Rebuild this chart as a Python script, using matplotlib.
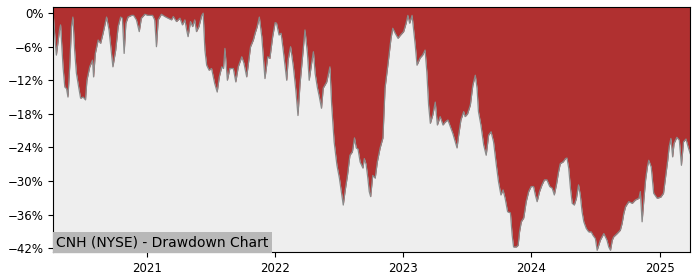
import matplotlib
matplotlib.use("Agg")
import matplotlib.pyplot as plt
import matplotlib.ticker as mticker
import pandas as pd

# Drawdown (percent below running peak)
dates = [
    "2020-04-09", "2020-04-13", "2020-04-18", "2020-04-27", "2020-04-30", "2020-05-07",
    "2020-05-12", "2020-05-17", "2020-05-21", "2020-05-26", "2020-05-31", "2020-06-04",
    "2020-06-09", "2020-06-14", "2020-06-21", "2020-06-26", "2020-07-03", "2020-07-10",
    "2020-07-14", "2020-07-22", "2020-07-30", "2020-08-02", "2020-08-07", "2020-08-15",
    "2020-08-22", "2020-08-29", "2020-09-08", "2020-09-15", "2020-09-26", "2020-10-04",
    "2020-10-11", "2020-10-18", "2020-10-23", "2020-10-28", "2020-11-02", "2020-11-08",
    "2020-11-18", "2020-11-24", "2020-12-02", "2020-12-10", "2020-12-16", "2020-12-26",
    "2021-01-04", "2021-01-17", "2021-01-23", "2021-01-28", "2021-02-02", "2021-02-11",
    "2021-02-21", "2021-03-02", "2021-03-12", "2021-03-17", "2021-03-26", "2021-04-05",
    "2021-04-12", "2021-04-19", "2021-04-24", "2021-04-28", "2021-05-05", "2021-05-11",
    "2021-05-17", "2021-05-22", "2021-05-29", "2021-06-06", "2021-06-10", "2021-06-15",
    "2021-06-20", "2021-06-27", "2021-07-04", "2021-07-09", "2021-07-13", "2021-07-20",
    "2021-07-26", "2021-08-02", "2021-08-07", "2021-08-11", "2021-08-18", "2021-08-25",
    "2021-09-04", "2021-09-11", "2021-09-18", "2021-09-28", "2021-10-04", "2021-10-12",
    "2021-10-23", "2021-10-31", "2021-11-05", "2021-11-11", "2021-11-17", "2021-11-24",
    "2021-12-03", "2021-12-11", "2021-12-17", "2021-12-25", "2022-01-01", "2022-01-05",
    "2022-01-12", "2022-01-18", "2022-01-24", "2022-02-03", "2022-02-07", "2022-02-14",
    "2022-02-22", "2022-03-01", "2022-03-07", "2022-03-13", "2022-03-21", "2022-03-27",
    "2022-04-03", "2022-04-08", "2022-04-15", "2022-04-20", "2022-04-25", "2022-05-01",
    "2022-05-07", "2022-05-13", "2022-05-18", "2022-05-28", "2022-06-06", "2022-06-11",
    "2022-06-18", "2022-06-26", "2022-07-03", "2022-07-10", "2022-07-14", "2022-07-19",
    "2022-07-26", "2022-08-02", "2022-08-09", "2022-08-15", "2022-08-20", "2022-08-25",
    "2022-08-31", "2022-09-08", "2022-09-12", "2022-09-17", "2022-09-22", "2022-09-26",
    "2022-09-30", "2022-10-06", "2022-10-13", "2022-10-19", "2022-10-27", "2022-11-04",
    "2022-11-10", "2022-11-18", "2022-11-27", "2022-12-02", "2022-12-09", "2022-12-17",
    "2022-12-23", "2023-01-02", "2023-01-09", "2023-01-14", "2023-01-19", "2023-01-26",
    "2023-02-04", "2023-02-09", "2023-02-18", "2023-02-25", "2023-03-04", "2023-03-09",
    "2023-03-14", "2023-03-19", "2023-03-26", "2023-04-02", "2023-04-08", "2023-04-16",
    "2023-04-24", "2023-04-30", "2023-05-08", "2023-05-15", "2023-05-22", "2023-05-29",
    "2023-06-03", "2023-06-07", "2023-06-14", "2023-06-22", "2023-06-26", "2023-07-03",
    "2023-07-11", "2023-07-18", "2023-07-25", "2023-07-30", "2023-08-03", "2023-08-10",
    "2023-08-18", "2023-08-25", "2023-09-01", "2023-09-08", "2023-09-15", "2023-09-23",
    "2023-09-29", "2023-10-06", "2023-10-12", "2023-10-18", "2023-10-25", "2023-11-02",
    "2023-11-07", "2023-11-11", "2023-11-19", "2023-11-24", "2023-11-28", "2023-12-03",
    "2023-12-10", "2023-12-17", "2023-12-24", "2023-12-31", "2024-01-07", "2024-01-12",
    "2024-01-17", "2024-01-24", "2024-01-31", "2024-02-07", "2024-02-14", "2024-02-22",
    "2024-02-29", "2024-03-06", "2024-03-12", "2024-03-18", "2024-03-23", "2024-03-31",
    "2024-04-07", "2024-04-11", "2024-04-16", "2024-04-21", "2024-04-26", "2024-05-02",
    "2024-05-08", "2024-05-14", "2024-05-19", "2024-05-24", "2024-05-29", "2024-06-05",
    "2024-06-12", "2024-06-19", "2024-06-24", "2024-07-01", "2024-07-06", "2024-07-15",
    "2024-07-25", "2024-08-03", "2024-08-08", "2024-08-13", "2024-08-18", "2024-08-22",
    "2024-09-01", "2024-09-10", "2024-09-15", "2024-09-20", "2024-09-25", "2024-10-04",
    "2024-10-14", "2024-10-23", "2024-11-02", "2024-11-06", "2024-11-11", "2024-11-16",
    "2024-11-21", "2024-11-26", "2024-11-30", "2024-12-07", "2024-12-14", "2024-12-24",
    "2025-01-03", "2025-01-11", "2025-01-18", "2025-01-23", "2025-01-27", "2025-02-01",
    "2025-02-06", "2025-02-10", "2025-02-18", "2025-02-25", "2025-03-03", "2025-03-09",
    "2025-03-16", "2025-03-22", "2025-03-28",
]
drawdown = [
    0.0, -3.6, -7.5, -3.0, -2.1, -9.6,
    -13.2, -13.5, -15.0, -9.6, -2.4, -0.7,
    -6.6, -10.7, -13.4, -15.2, -15.0, -15.5,
    -12.0, -9.6, -8.4, -11.4, -7.2, -4.8,
    -5.4, -3.6, -0.7, -3.0, -9.6, -6.6,
    -2.4, -0.7, -0.9, -7.2, -1.8, -0.7,
    -0.4, -0.4, -1.2, -3.3, -0.9, -0.2,
    -0.4, -0.4, -1.2, -6.0, -1.2, -0.2,
    -0.6, -0.9, -1.2, -0.6, -1.5, -0.9,
    -2.1, -1.2, -3.0, -4.2, -1.5, -2.4,
    -1.2, -3.3, -2.4, -0.4, 0.0, -6.6,
    -9.3, -10.2, -9.9, -11.4, -12.6, -14.1,
    -11.4, -9.6, -9.9, -6.3, -12.0, -9.9,
    -9.9, -12.3, -9.6, -7.8, -8.9, -11.4,
    -6.0, -4.8, -3.6, -2.4, -0.7, -4.2,
    -11.7, -7.8, -8.1, -4.2, -1.7, -1.8,
    -3.9, -3.6, -6.6, -12.0, -8.4, -6.0,
    -9.6, -13.8, -18.3, -12.6, -7.2, -3.0,
    -7.2, -12.0, -8.9, -6.9, -10.8, -13.2,
    -15.0, -17.0, -13.4, -12.3, -9.6, -16.4,
    -23.0, -27.2, -29.5, -32.5, -34.3, -31.9,
    -29.0, -25.4, -24.8, -22.3, -24.1, -24.3,
    -26.6, -27.7, -26.0, -27.0, -29.5, -31.9,
    -32.8, -29.0, -29.5, -26.6, -24.1, -22.3,
    -13.4, -9.3, -4.5, -2.7, -3.6, -4.5,
    -4.0, -3.3, -1.8, -0.4, -1.8, -0.4,
    -5.7, -9.3, -8.0, -7.5, -6.6, -10.5,
    -16.4, -19.7, -18.2, -15.9, -20.0, -18.5,
    -20.0, -19.5, -19.1, -20.3, -21.5, -23.0,
    -24.1, -22.1, -19.1, -17.6, -18.5, -18.0,
    -16.4, -12.9, -11.1, -13.4, -17.6, -20.0,
    -23.6, -25.4, -21.8, -21.2, -23.0, -27.2,
    -30.1, -32.5, -31.6, -33.1, -35.5, -35.7,
    -39.7, -41.8, -41.8, -41.5, -39.1, -37.3,
    -36.6, -33.7, -31.9, -31.0, -31.0, -32.5,
    -33.7, -31.9, -30.7, -29.8, -29.8, -31.0,
    -31.3, -32.5, -30.7, -28.4, -26.9, -26.6,
    -26.0, -25.9, -27.7, -31.3, -34.0, -34.3,
    -33.1, -30.7, -32.5, -35.5, -37.3, -38.5,
    -39.1, -39.1, -39.7, -40.3, -42.4, -40.6,
    -39.4, -40.6, -41.8, -42.4, -40.6, -40.0,
    -39.4, -38.8, -37.6, -35.8, -34.6, -33.7,
    -34.0, -33.4, -33.1, -31.9, -37.3, -33.4,
    -29.8, -27.5, -26.3, -27.5, -32.2, -33.1,
    -32.9, -32.2, -28.7, -26.3, -23.9, -22.4,
    -25.7, -23.3, -22.2, -22.7, -27.2, -23.0,
    -22.5, -23.9, -25.1,
]
y_ticks = [0, -6, -12, -18, -24, -30, -36, -42]
title = "CNH (NYSE) - Drawdown Chart"

x = pd.to_datetime(dates)
y_bottom, y_top = -42.7, 1.1

fig = plt.figure(figsize=(7, 2.8), dpi=100)
ax = fig.add_axes([0.076, 0.1, 0.91, 0.875])
ax.set_facecolor("#eeeeee")

# red area runs from the curve up to the top of the plot
ax.fill_between(x, drawdown, y_top, color="#b03030", linewidth=0)
ax.plot(x, drawdown, color="#8a8a8a", linewidth=0.9)

ax.set_xlim(x[0], x[-1])
ax.set_ylim(y_bottom, y_top)
ax.set_yticks(y_ticks)
ax.yaxis.set_major_formatter(mticker.PercentFormatter(decimals=0))
ax.xaxis.set_major_locator(matplotlib.dates.YearLocator())
ax.xaxis.set_major_formatter(matplotlib.dates.DateFormatter("%Y"))
ax.tick_params(labelsize=8.5)

ax.text(0.005, 0.012, title, transform=ax.transAxes, fontsize=10,
        ha="left", va="bottom",
        bbox=dict(boxstyle="square,pad=0.25", fc="#b8b8b8", ec="none"))

fig.savefig("out.png", dpi=100)
